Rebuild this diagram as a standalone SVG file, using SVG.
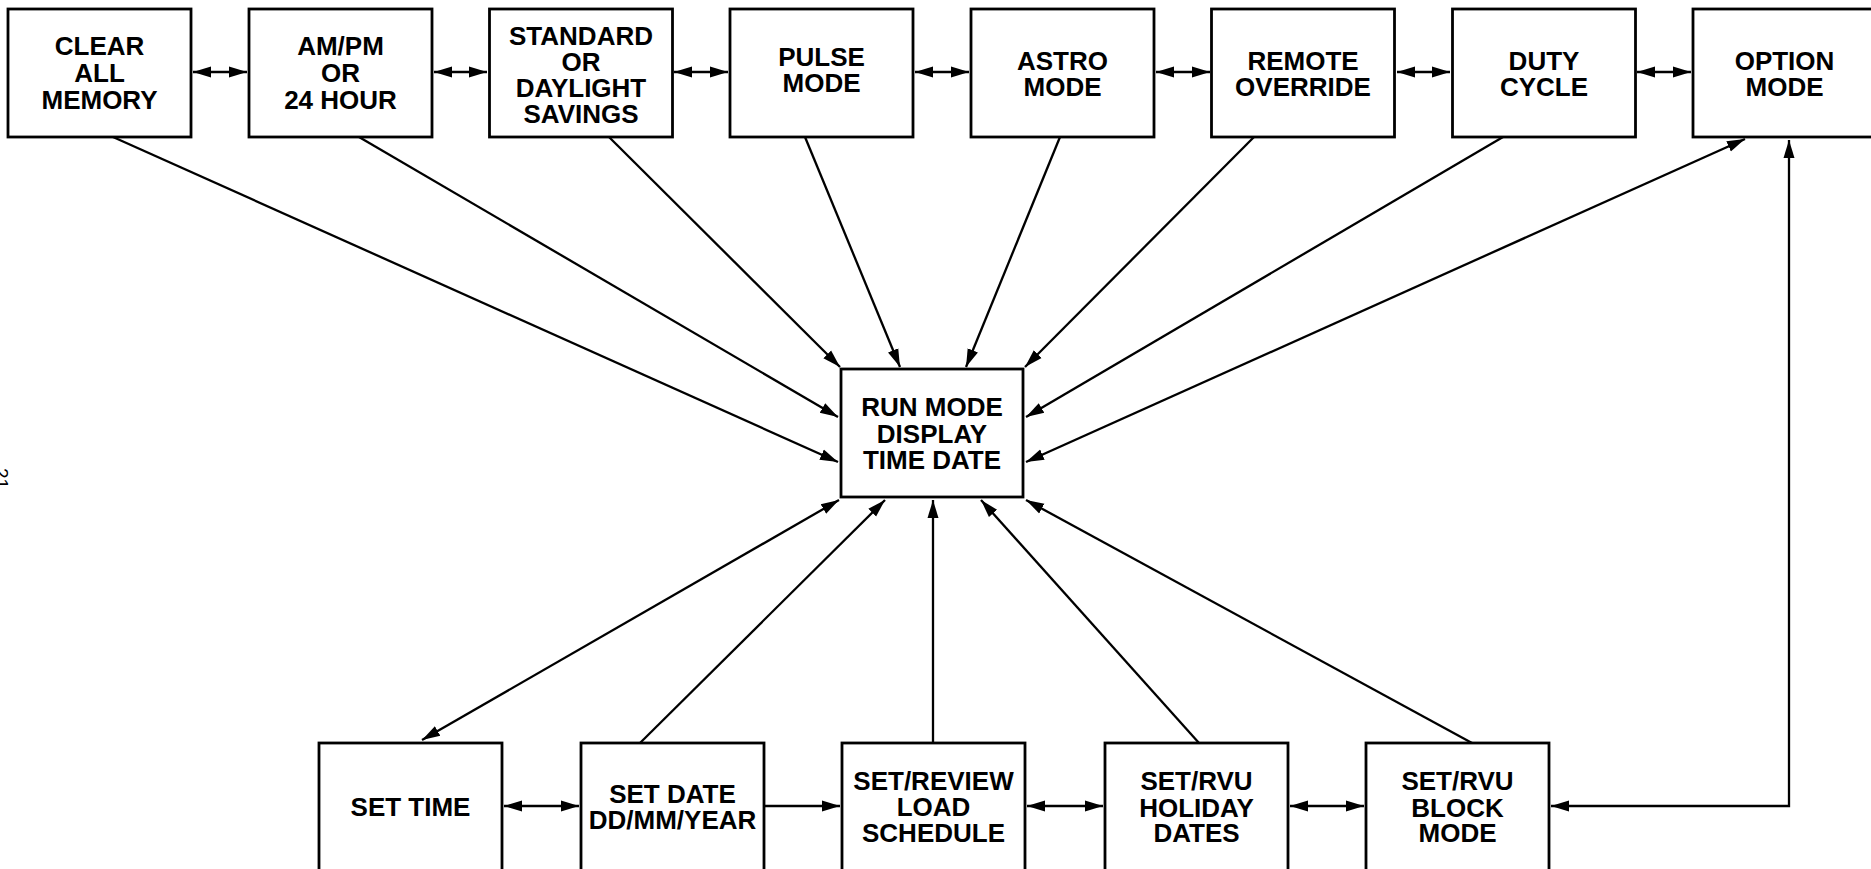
<svg xmlns="http://www.w3.org/2000/svg" width="1871" height="869" viewBox="0 0 1871 869">
<style>
.box{fill:#fff;stroke:#000;stroke-width:2.8}
.t{font-family:"Liberation Sans",Arial,sans-serif;font-weight:bold;font-size:26px;text-anchor:middle;fill:#000}
.c{fill:none;stroke:#000;stroke-width:2.3}
.e{marker-end:url(#ah)}
.b{marker-start:url(#ah);marker-end:url(#ah)}
</style>
<defs>
<marker id="ah" markerUnits="userSpaceOnUse" markerWidth="20" markerHeight="14" viewBox="0 0 20 14" refX="18" refY="7" orient="auto-start-reverse">
<path d="M0,1.5 L18,7 L0,12.5 Z" fill="#000"/>
</marker>
</defs>
<rect width="1871" height="869" fill="#fff"/>
<text transform="translate(-5,468) rotate(90)" font-family="Liberation Sans,Arial,sans-serif" font-size="19" fill="#000">21</text>

<g id="connectors">
<line class="c b" x1="193" y1="72" x2="247" y2="72"/>
<line class="c b" x1="434" y1="72" x2="487" y2="72"/>
<line class="c b" x1="674" y1="72" x2="728" y2="72"/>
<line class="c b" x1="915" y1="72" x2="969" y2="72"/>
<line class="c b" x1="1156" y1="72" x2="1210" y2="72"/>
<line class="c b" x1="1397" y1="72" x2="1450" y2="72"/>
<line class="c b" x1="1637" y1="72" x2="1691" y2="72"/>

<line class="c e" x1="113" y1="137" x2="838" y2="462"/>
<line class="c e" x1="359" y1="137" x2="838" y2="417"/>
<line class="c e" x1="609" y1="137" x2="840" y2="367"/>
<line class="c e" x1="805" y1="137" x2="900" y2="367"/>
<line class="c e" x1="1060" y1="137" x2="966" y2="367"/>
<line class="c e" x1="1254" y1="137" x2="1025" y2="367"/>
<line class="c e" x1="1503" y1="137" x2="1026" y2="417"/>
<line class="c b" x1="1026" y1="462" x2="1745" y2="139"/>

<line class="c b" x1="422" y1="740" x2="839" y2="500"/>
<line class="c e" x1="640" y1="743" x2="885" y2="500"/>
<line class="c e" x1="933" y1="743" x2="933" y2="500"/>
<line class="c e" x1="1199" y1="743" x2="981" y2="500"/>
<line class="c e" x1="1472" y1="743" x2="1026" y2="500"/>

<line class="c b" x1="504" y1="806" x2="579" y2="806"/>
<line class="c e" x1="765" y1="806" x2="840" y2="806"/>
<line class="c b" x1="1027" y1="806" x2="1103" y2="806"/>
<line class="c b" x1="1290" y1="806" x2="1364" y2="806"/>
<path class="c b" d="M1551,806 L1789,806 L1789,140"/>
</g>

<g id="n-clear"><rect class="box" x="8" y="9" width="183" height="128"/>
<text class="t" x="99.5" y="55">CLEAR</text><text class="t" x="99.5" y="82">ALL</text><text class="t" x="99.5" y="109">MEMORY</text></g>
<g id="n-ampm"><rect class="box" x="249" y="9" width="183" height="128"/>
<text class="t" x="340.5" y="55">AM/PM</text><text class="t" x="340.5" y="82">OR</text><text class="t" x="340.5" y="109">24 HOUR</text></g>
<g id="n-std"><rect class="box" x="489.5" y="9" width="183" height="128"/>
<text class="t" x="581" y="44.5">STANDARD</text><text class="t" x="581" y="70.5">OR</text><text class="t" x="581" y="96.5">DAYLIGHT</text><text class="t" x="581" y="122.5">SAVINGS</text></g>
<g id="n-pulse"><rect class="box" x="730" y="9" width="183" height="128"/>
<text class="t" x="821.5" y="66">PULSE</text><text class="t" x="821.5" y="92">MODE</text></g>
<g id="n-astro"><rect class="box" x="971" y="9" width="183" height="128"/>
<text class="t" x="1062.5" y="70">ASTRO</text><text class="t" x="1062.5" y="96">MODE</text></g>
<g id="n-remote"><rect class="box" x="1211.5" y="9" width="183" height="128"/>
<text class="t" x="1303" y="70">REMOTE</text><text class="t" x="1303" y="96">OVERRIDE</text></g>
<g id="n-duty"><rect class="box" x="1452.5" y="9" width="183" height="128"/>
<text class="t" x="1544" y="70">DUTY</text><text class="t" x="1544" y="96">CYCLE</text></g>
<g id="n-option"><rect class="box" x="1693" y="9" width="183" height="128"/>
<text class="t" x="1784.5" y="70">OPTION</text><text class="t" x="1784.5" y="96">MODE</text></g>

<g id="n-run"><rect class="box" x="841" y="369" width="182" height="128"/>
<text class="t" x="932" y="416">RUN MODE</text><text class="t" x="932" y="442.5">DISPLAY</text><text class="t" x="932" y="469">TIME DATE</text></g>

<g id="n-settime"><rect class="box" x="319" y="743" width="183" height="128"/>
<text class="t" x="410.5" y="816">SET TIME</text></g>
<g id="n-setdate"><rect class="box" x="581" y="743" width="183" height="128"/>
<text class="t" x="672.5" y="803">SET DATE</text><text class="t" x="672.5" y="829">DD/MM/YEAR</text></g>
<g id="n-load"><rect class="box" x="842" y="743" width="183" height="128"/>
<text class="t" x="933.5" y="789.5">SET/REVIEW</text><text class="t" x="933.5" y="816">LOAD</text><text class="t" x="933.5" y="842">SCHEDULE</text></g>
<g id="n-holiday"><rect class="box" x="1105" y="743" width="183" height="128"/>
<text class="t" x="1196.5" y="790">SET/RVU</text><text class="t" x="1196.5" y="816.5">HOLIDAY</text><text class="t" x="1196.5" y="842">DATES</text></g>
<g id="n-block"><rect class="box" x="1366" y="743" width="183" height="128"/>
<text class="t" x="1457.5" y="790">SET/RVU</text><text class="t" x="1457.5" y="816.5">BLOCK</text><text class="t" x="1457.5" y="842">MODE</text></g>
</svg>
